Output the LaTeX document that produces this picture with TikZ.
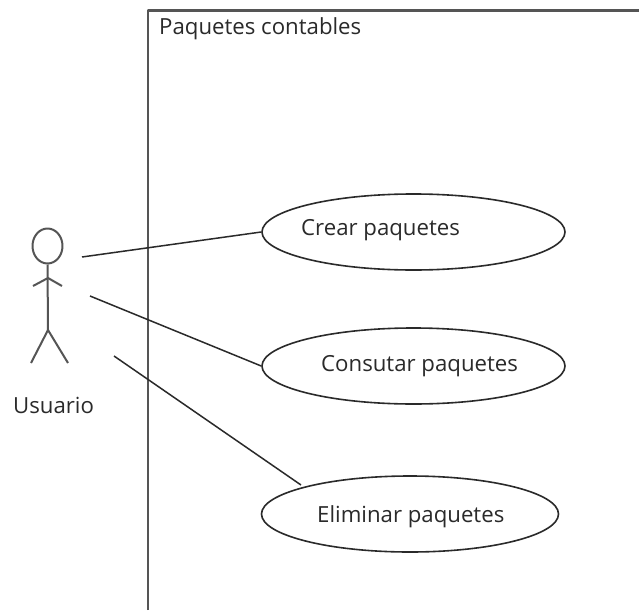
\documentclass[tikz,border=0pt]{standalone}
\usepackage{fontspec}
\setmainfont{Open Sans}
\usetikzlibrary{shapes.geometric}
\definecolor{ln}{HTML}{2A2A2A}
\definecolor{frame}{HTML}{555555}
\definecolor{fg}{HTML}{2A2A2A}
\tikzset{
 uc/.style={draw=ln,line width=1.6pt,ellipse,minimum width=#1,minimum height=76pt,inner sep=0pt},
 lab/.style={font=\fontsize{22.2}{25}\selectfont,text=fg,inner sep=0pt,anchor=west},
 conn/.style={draw=ln,line width=1.5pt},
 actor/.style={draw=frame,line width=2pt}
}
\begin{document}
\begin{tikzpicture}[x=1pt,y=-1pt,line join=round]
\useasboundingbox (0,0) rectangle (639,610);
\fill[white] (0,0) rectangle (639,610);
\coordinate (bl) at (148,610);
\coordinate (tl) at (148,10.5);
\coordinate (tr) at (639,10.5);
\draw[draw=frame,line width=2.4pt] (bl) -- (tl) -- (tr);
\node[lab] (title) at (159,29) {Paquetes contables};
\node[uc=303pt] (c1) at (413.5,232) {};
\node[uc=303pt] (c2) at (413.5,366) {};
\node[uc=297pt] (c3) at (410,514) {};
\node[lab] (t1) at (301,230) {Crear paquetes};
\node[lab] (t2) at (321,366) {Consutar paquetes};
\node[lab] (t3) at (317,517) {Eliminar paquetes};
\node[actor,ellipse,inner sep=0pt,minimum width=30pt,minimum height=35pt] (head) at (47.5,246) {};
\coordinate (neck) at (48,278);
\coordinate (hip) at (48,330);
\coordinate (al) at (33,286);
\coordinate (ar) at (62,286);
\coordinate (fl) at (31,363);
\coordinate (fr) at (68,363);
\draw[actor] (head.south) -- (hip);
\draw[actor] (al) -- (neck) -- (ar);
\draw[actor] (fl) -- (hip) -- (fr);
\node[lab] (user) at (13,405) {Usuario};
\coordinate (a1) at (82,257);
\coordinate (a2) at (90,296);
\coordinate (a3) at (114,356);
\draw[conn] (a1) -- (c1.west);
\draw[conn] (a2) -- (c2.west);
\draw[conn] (a3) -- (301,485);
\end{tikzpicture}
\end{document}
